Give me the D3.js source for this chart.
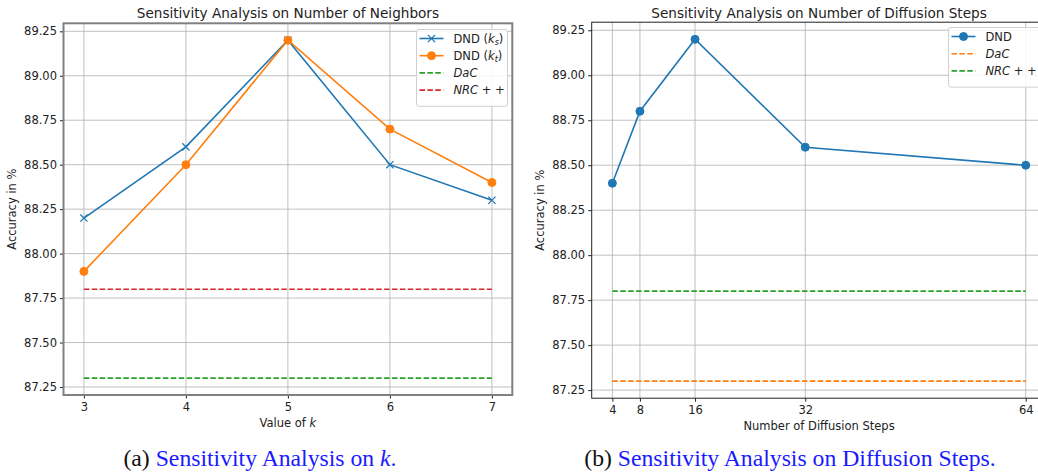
<!DOCTYPE html>
<html>
<head>
<meta charset="utf-8">
<script src="https://cdn.jsdelivr.net/npm/d3@7"></script>
<style>
  body { margin: 0; background: #fff; }
  svg { display: block; }
  text { font-family: "DejaVu Sans", sans-serif; fill: #222; }
</style>
</head>
<body>
<svg id="chart" width="1038" height="473"></svg>
<script>
// ---- data: panel (a) ----
var kValues = [3, 4, 5, 6, 7];
var dndKs = [88.2, 88.6, 89.2, 88.5, 88.3];
var dndKt = [87.9, 88.5, 89.2, 88.7, 88.4];
var dacA = 87.3;
var nrcA = 87.8;
// ---- data: panel (b) ----
var stepValues = [4, 8, 16, 32, 64];
var dndSteps = [88.4, 88.8, 89.2, 88.6, 88.5];
var dacB = 87.3;
var nrcB = 87.8;
var yTicks = [87.25, 87.5, 87.75, 88.0, 88.25, 88.5, 88.75, 89.0, 89.25];

var blue = "#1f77b4", orange = "#ff7f0e", green = "#2ca02c", red = "#d62728";
var small = "11.5px";
var svg = d3.select("#chart");

function drawPanel(cfg) {
    var g = svg.append("g");
    var x = d3.scaleLinear().domain(cfg.xDomain).range([cfg.left, cfg.right]);
    var y = d3.scaleLinear().domain([87.205, 89.295]).range([cfg.bottom, cfg.top]);

    // grid
    g.selectAll(".gx").data(cfg.xTicks).enter().append("line")
        .attr("x1", function (d) { return x(d); }).attr("x2", function (d) { return x(d); })
        .attr("y1", cfg.top).attr("y2", cfg.bottom)
        .style("stroke", "#b0b0b0").style("stroke-width", 0.8);
    g.selectAll(".gy").data(yTicks).enter().append("line")
        .attr("x1", cfg.left).attr("x2", cfg.right)
        .attr("y1", function (d) { return y(d); }).attr("y2", function (d) { return y(d); })
        .style("stroke", "#b0b0b0").style("stroke-width", 0.8);

    // axes
    var xAxis = g.append("g").attr("transform", "translate(0," + cfg.bottom + ")")
        .call(d3.axisBottom(x).tickValues(cfg.xTicks).tickSize(3.5).tickPadding(4).tickFormat(d3.format("d")));
    var yAxis = g.append("g").attr("transform", "translate(" + cfg.left + ",0)")
        .call(d3.axisLeft(y).tickValues(yTicks).tickSize(3.5).tickPadding(3).tickFormat(d3.format(".2f")));
    [xAxis, yAxis].forEach(function (a) {
        a.select(".domain").remove();
        a.selectAll("line").style("stroke", "#222");
        a.selectAll("text").style("font-size", small).style("fill", "#222")
            .style("font-family", "DejaVu Sans, sans-serif");
    });

    // lines
    var clip = "clip" + cfg.id;
    svg.append("clipPath").attr("id", clip).append("rect")
        .attr("x", cfg.left).attr("y", cfg.top).attr("width", cfg.right - cfg.left).attr("height", cfg.bottom - cfg.top);
    var plot = g.append("g").attr("clip-path", "url(#" + clip + ")");
    var line = d3.line().x(function (d) { return x(d[0]); }).y(function (d) { return y(d[1]); });

    cfg.hlines.forEach(function (h) {
        plot.append("path").datum([[cfg.xs[0], h.value], [cfg.xs[cfg.xs.length - 1], h.value]])
            .attr("d", line).style("fill", "none").style("stroke", h.color)
            .style("stroke-width", 1.6).style("stroke-dasharray", "5.5,2.4");
    });
    cfg.series.forEach(function (s) {
        var pts = cfg.xs.map(function (v, i) { return [v, s.values[i]]; });
        plot.append("path").datum(pts).attr("d", line)
            .style("fill", "none").style("stroke", s.color).style("stroke-width", 1.6);
        pts.forEach(function (p) {
            drawMarker(plot, s.marker, x(p[0]), y(p[1]), s.color);
        });
    });

    // frame
    g.append("rect").attr("x", cfg.left).attr("y", cfg.top)
        .attr("width", cfg.right - cfg.left).attr("height", cfg.bottom - cfg.top)
        .style("fill", "none").style("stroke", cfg.frameColor).style("stroke-width", cfg.frameWidth);

    // texts
    g.append("text").attr("x", (cfg.left + cfg.right) / 2).attr("y", 18)
        .attr("text-anchor", "middle").style("font-size", "13.6px").text(cfg.title);
    var xl = g.append("text").attr("x", (cfg.left + cfg.right) / 2).attr("y", cfg.xLabelY)
        .attr("text-anchor", "middle").style("font-size", small);
    cfg.xLabel(xl);
    g.append("text").attr("transform", "translate(" + cfg.yLabelX + "," + (cfg.top + cfg.bottom) / 2 + ") rotate(-90)")
        .attr("text-anchor", "middle").style("font-size", small).text("Accuracy in %");

    // legend
    var lg = g.append("g").attr("transform", "translate(" + cfg.legX + "," + cfg.legY + ")");
    var rows = cfg.legend;
    lg.append("rect").attr("x", 0).attr("y", 0).attr("rx", 2.5)
        .attr("width", cfg.legW).attr("height", 8 + rows.length * 17.2)
        .style("fill", "#fff").style("fill-opacity", 0.85).style("stroke", "#d0d0d0").style("stroke-width", 1);
    rows.forEach(function (r, i) {
        var cy = 9 + i * 17.2;
        lg.append("line").attr("x1", 3).attr("x2", 27).attr("y1", cy).attr("y2", cy)
            .style("stroke", r.color).style("stroke-width", 1.6)
            .style("stroke-dasharray", r.dash ? "5.5,2.4" : null);
        if (r.marker) drawMarker(lg, r.marker, 15, cy, r.color);
        var t = lg.append("text").attr("x", 37).attr("y", cy + 4).style("font-size", small);
        r.label(t);
    });
}

function drawMarker(sel, type, cx, cy, color) {
    if (type === "circle") {
        sel.append("circle").attr("cx", cx).attr("cy", cy).attr("r", 4)
            .style("fill", color).style("stroke", color);
    } else if (type === "x") {
        var s = 3.6;
        sel.append("path").attr("d", "M" + (cx - s) + "," + (cy - s) + "L" + (cx + s) + "," + (cy + s) +
            "M" + (cx - s) + "," + (cy + s) + "L" + (cx + s) + "," + (cy - s))
            .style("stroke", color).style("stroke-width", 1.3).style("fill", "none");
    }
}

function dndSub(sub) {
    return function (t) {
        t.append("tspan").text("DND (");
        t.append("tspan").style("font-style", "italic").text("k");
        t.append("tspan").style("font-style", "italic").style("font-size", "8px").attr("dy", 2.5).text(sub);
        t.append("tspan").attr("dy", -2.5).text(")");
    };
}
function italicLabel(txt, rest) {
    return function (t) {
        t.append("tspan").style("font-style", "italic").text(txt);
        if (rest) t.append("tspan").text(rest);
    };
}

drawPanel({
    id: "a", xs: kValues, xDomain: [2.8, 7.2], xTicks: kValues,
    left: 63.5, right: 512.3, top: 23.3, bottom: 395,
    frameColor: "#808080", frameWidth: 2,
    title: "Sensitivity Analysis on Number of Neighbors",
    xLabelY: 426.5, yLabelX: 16,
    xLabel: function (t) {
        t.append("tspan").text("Value of ");
        t.append("tspan").style("font-style", "italic").text("k");
    },
    series: [
        { values: dndKs, color: blue, marker: "x" },
        { values: dndKt, color: orange, marker: "circle" }
    ],
    hlines: [{ value: dacA, color: green }, { value: nrcA, color: red }],
    legX: 416.5, legY: 29.5, legW: 91,
    legend: [
        { color: blue, marker: "x", label: dndSub("s") },
        { color: orange, marker: "circle", label: dndSub("t") },
        { color: green, dash: true, label: italicLabel("DaC") },
        { color: red, dash: true, label: italicLabel("NRC", " + +") }
    ]
});

drawPanel({
    id: "b", xs: stepValues, xDomain: [1, 67], xTicks: stepValues,
    left: 591.7, right: 1046.4, top: 22.2, bottom: 398.2,
    frameColor: "#222", frameWidth: 1,
    title: "Sensitivity Analysis on Number of Diffusion Steps",
    xLabelY: 430, yLabelX: 544,
    xLabel: function (t) { t.text("Number of Diffusion Steps"); },
    series: [{ values: dndSteps, color: blue, marker: "circle" }],
    hlines: [{ value: dacB, color: orange }, { value: nrcB, color: green }],
    legX: 948.5, legY: 27.5, legW: 92,
    legend: [
        { color: blue, marker: "circle", label: function (t) { t.text("DND"); } },
        { color: orange, dash: true, label: italicLabel("DaC") },
        { color: green, dash: true, label: italicLabel("NRC", " + +") }
    ]
});

// captions
function caption(cx, tag, parts) {
    var t = svg.append("text").attr("x", cx).attr("y", 466).attr("text-anchor", "middle")
        .style("font-family", "Liberation Serif, Times New Roman, serif").style("font-size", "23.7px");
    t.append("tspan").style("fill", "#111").text(tag + " ");
    parts.forEach(function (p) {
        t.append("tspan").style("fill", "#1a1aff").style("font-family", "Liberation Serif, serif")
            .style("font-style", p.italic ? "italic" : null).text(p.text);
    });
}
caption(260, "(a)", [{ text: "Sensitivity Analysis on " }, { text: "k", italic: true }, { text: "." }]);
caption(790, "(b)", [{ text: "Sensitivity Analysis on Diffusion Steps." }]);
</script>
</body>
</html>
